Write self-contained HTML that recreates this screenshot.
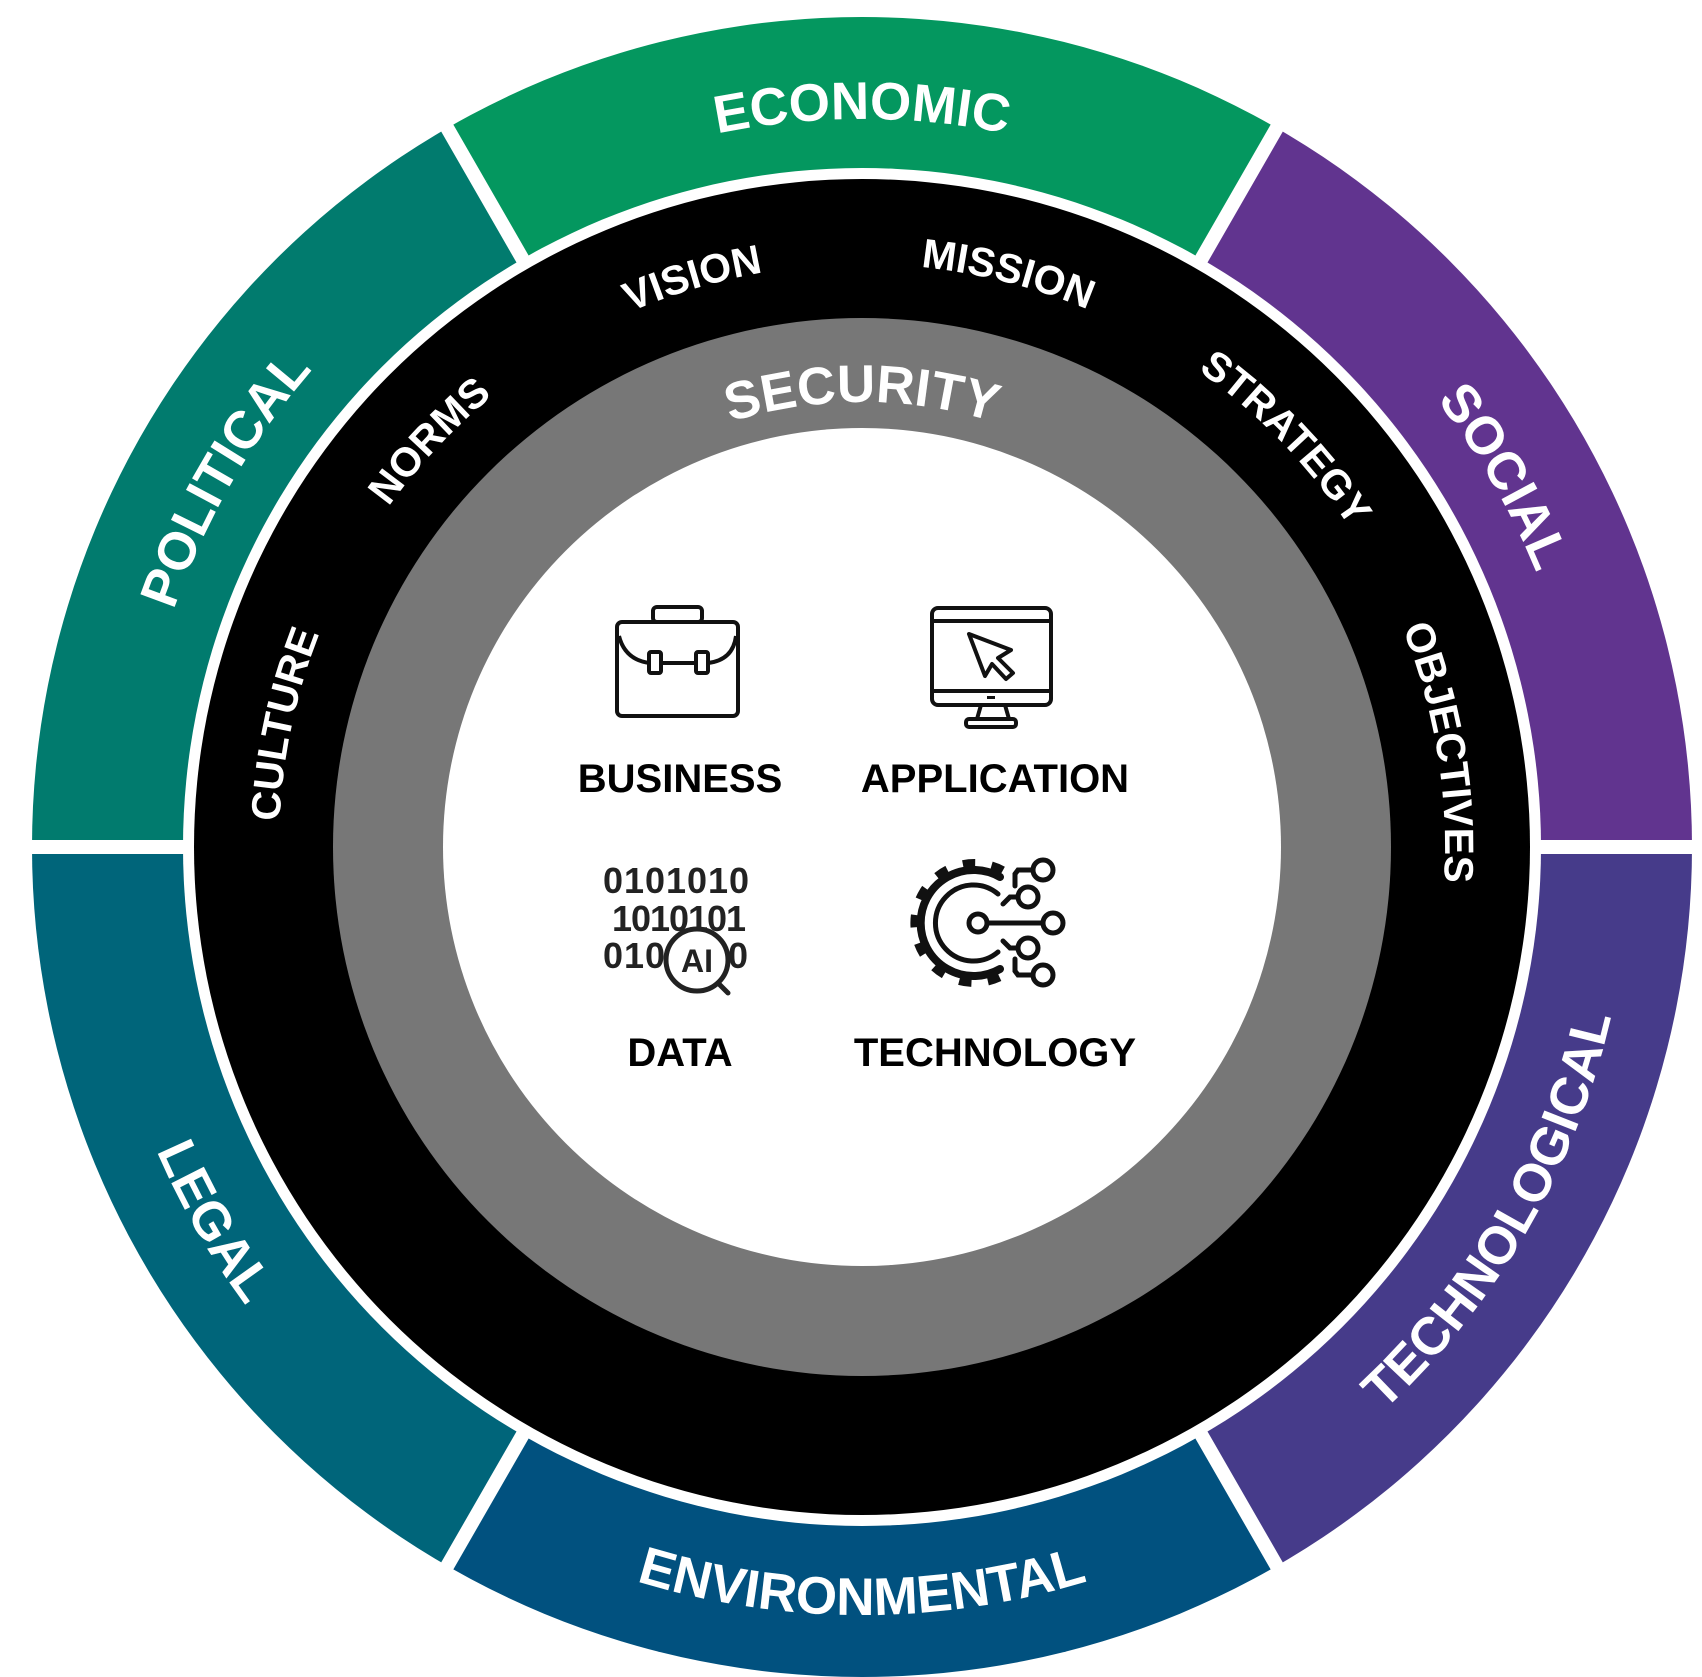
<!DOCTYPE html>
<html><head><meta charset="utf-8"><style>
html,body{margin:0;padding:0;background:#fff;width:1702px;height:1673px;overflow:hidden}
#ring{position:absolute;left:32px;top:17px;width:1660px;height:1660px;border-radius:50%;
background:conic-gradient(from -30deg,#04975f 0deg 60deg,#61348f 60deg 120deg,#463b8a 120deg 180deg,#01517f 180deg 240deg,#00657a 240deg 300deg,#017b6e 300deg 360deg)}
svg{position:absolute;left:0;top:0}
text{font-family:"Liberation Sans",sans-serif;font-weight:bold}
</style></head><body>
<div id="ring"></div>
<svg width="1702" height="1673" viewBox="0 0 1702 1673">
<defs>
<path id="cw728" d="M862,1575 A728,728 0 1 1 862,119 A728,728 0 1 1 862,1575"/>
<path id="ccw768" d="M862,79 A768,768 0 1 0 862,1615 A768,768 0 1 0 862,79"/>
<path id="cw583" d="M862,1430 A583,583 0 1 1 862,264 A583,583 0 1 1 862,1430"/>
<path id="cw445" d="M862,1292 A445,445 0 1 1 862,402 A445,445 0 1 1 862,1292"/>
</defs>
<g stroke="#fff" stroke-width="14">
<line x1="1199.5" y1="262.4" x2="1290" y2="105"/>
<line x1="1537" y1="847" x2="1702" y2="847"/>
<line x1="1199.5" y1="1431.6" x2="1290" y2="1589"/>
<line x1="524.5" y1="1431.6" x2="434" y2="1589"/>
<line x1="187" y1="847" x2="10" y2="847"/>
<line x1="524.5" y1="262.4" x2="434" y2="105"/>
</g>
<circle cx="862" cy="847" r="679" fill="#fff"/>
<circle cx="862" cy="847" r="668" fill="#000"/>
<circle cx="862" cy="847" r="529" fill="#777"/>
<circle cx="862" cy="847" r="419" fill="#fff"/>

<g fill="#fff" font-size="53">
<text><textPath href="#cw728" startOffset="50%" text-anchor="middle">ECONOMIC</textPath></text>
<text><textPath href="#cw728" startOffset="66.67%" text-anchor="middle">SOCIAL</textPath></text>
<text><textPath href="#cw728" startOffset="33.33%" text-anchor="middle">POLITICAL</textPath></text>
<text><textPath href="#ccw768" startOffset="66.67%" text-anchor="middle">TECHNOLOGICAL</textPath></text>
<text><textPath href="#ccw768" startOffset="50%" text-anchor="middle">ENVIRONMENTAL</textPath></text>
<text><textPath href="#ccw768" startOffset="33.33%" text-anchor="middle">LEGAL</textPath></text>
</g>
<g fill="#fff" font-size="41">
<text><textPath href="#cw583" startOffset="45.39%" text-anchor="middle">VISION</textPath></text>
<text><textPath href="#cw583" startOffset="53.97%" text-anchor="middle">MISSION</textPath></text>
<text><textPath href="#cw583" startOffset="62.78%" text-anchor="middle">STRATEGY</textPath></text>
<text><textPath href="#cw583" startOffset="72.42%" text-anchor="middle">OBJECTIVES</textPath></text>
<text><textPath href="#cw583" startOffset="37%" text-anchor="middle">NORMS</textPath></text>
<text><textPath href="#cw583" startOffset="28.33%" text-anchor="middle">CULTURE</textPath></text>
</g>
<text fill="#fff" font-size="53"><textPath href="#cw445" startOffset="50%" text-anchor="middle">SECURITY</textPath></text>

<g fill="#000" font-size="40" text-anchor="middle">
<text x="680" y="792">BUSINESS</text>
<text x="995" y="792">APPLICATION</text>
<text x="680" y="1066">DATA</text>
<text x="995" y="1066">TECHNOLOGY</text>
</g>

<!-- briefcase -->
<g fill="none" stroke="#111" stroke-width="4" stroke-linejoin="round">
<rect x="617" y="622" width="121" height="94" rx="5"/>
<rect x="653" y="607" width="49" height="15" rx="4"/>
<path d="M619,636 Q625,660 650,663 M708,663 Q733,660 736,636"/>
<rect x="649" y="652" width="12" height="21" rx="2"/>
<rect x="696" y="652" width="12" height="21" rx="2"/>
<line x1="661" y1="663" x2="696" y2="663"/>
</g>
<!-- monitor -->
<g fill="none" stroke="#111" stroke-width="4" stroke-linejoin="round">
<rect x="932" y="608" width="119" height="97" rx="6"/>
<line x1="932" y1="621" x2="1051" y2="621"/>
<line x1="932" y1="691" x2="1051" y2="691"/>
<path d="M981,705 L977,719 M1005,705 L1009,719"/>
<rect x="966" y="719" width="50" height="8" rx="3"/>
<path d="M969,634 L1011,650 L998,658 L1013,673 L1006,679 L992,664 L985,676 Z"/>
</g>
<rect x="987" y="696" width="8" height="3" fill="#111"/>
<!-- data -->
<g fill="#222" font-size="36" font-family="Liberation Sans" font-weight="bold">
<text x="603" y="893" textLength="146" lengthAdjust="spacing">0101010</text>
<text x="612" y="931" textLength="134" lengthAdjust="spacing">1010101</text>
<text x="603" y="968" textLength="62" lengthAdjust="spacing">010</text>
<text x="728" y="968">0</text>
</g>
<circle cx="697" cy="960" r="31" fill="#fff" stroke="#222" stroke-width="5"/>
<line x1="718" y1="983" x2="728" y2="993" stroke="#222" stroke-width="5" stroke-linecap="round"/>
<text x="697" y="972" font-size="32" text-anchor="middle" fill="#222">AI</text>
<!-- gear -->
<g fill="none" stroke="#111" stroke-width="5" stroke-linecap="round">
<path d="M1000,877 A53,53 0 1 0 1000,969" stroke-width="8"/>
<path d="M1002,872 A58,58 0 1 0 1002,974" stroke-width="12" stroke-dasharray="12 16" stroke-linecap="butt"/>
<path d="M998,894 A38,38 0 1 0 998,952"/>
<circle cx="978" cy="923" r="9"/>
<line x1="987" y1="923" x2="1042" y2="923"/>
<circle cx="1053" cy="923" r="10"/>
<circle cx="1043" cy="870" r="10"/>
<circle cx="1028" cy="897" r="10"/>
<circle cx="1028" cy="948" r="10"/>
<circle cx="1043" cy="975" r="10"/>
<path d="M1018,897 L1010,897 L1003,904"/>
<path d="M1018,948 L1010,948 L1003,941"/>
<path d="M1033,870 L1018,870 L1015,874 L1015,886"/>
<path d="M1033,975 L1018,975 L1015,971 L1015,959"/>
</g>
</svg>
</body></html>
